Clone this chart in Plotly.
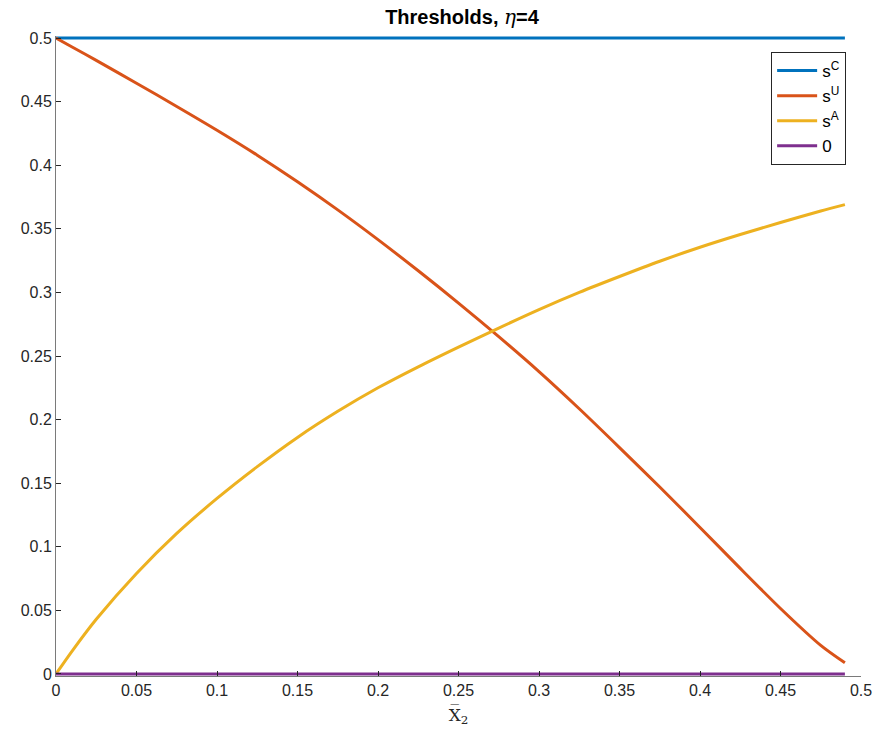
import plotly.graph_objects as go

# ---- data ----
x_grid = [0, 0.01, 0.025, 0.05, 0.075, 0.1, 0.125, 0.15, 0.175, 0.2, 0.225, 0.25,
          0.275, 0.3, 0.325, 0.35, 0.375, 0.4, 0.425, 0.45, 0.475, 0.49]
s_C = [0.5] * len(x_grid)
s_U = [0.5, 0.493, 0.4824, 0.4645, 0.4462, 0.4275, 0.4079, 0.387, 0.3649, 0.3415, 0.317, 0.2916,
       0.2652, 0.2377, 0.2085, 0.178, 0.147, 0.1152, 0.083, 0.0515, 0.0225, 0.0088]
s_A = [0.0, 0.018, 0.043, 0.079, 0.1105, 0.138, 0.163, 0.186, 0.2065, 0.225, 0.2415, 0.257,
       0.272, 0.2865, 0.300, 0.3125, 0.3245, 0.3355, 0.3455, 0.355, 0.364, 0.369]
zero = [0.0] * len(x_grid)

series_names = ["s<sup>C</sup>", "s<sup>U</sup>", "s<sup>A</sup>", "0"]
series_vals = [s_C, s_U, s_A, zero]
series_colors = ["#0072BD", "#D95319", "#EDB120", "#7E2F8E"]

x_ticks = [0, 0.05, 0.1, 0.15, 0.2, 0.25, 0.3, 0.35, 0.4, 0.45, 0.5]
x_tick_labels = ["0", "0.05", "0.1", "0.15", "0.2", "0.25", "0.3", "0.35", "0.4", "0.45", "0.5"]
y_ticks = [0, 0.05, 0.1, 0.15, 0.2, 0.25, 0.3, 0.35, 0.4, 0.45, 0.5]
y_tick_labels = ["0", "0.05", "0.1", "0.15", "0.2", "0.25", "0.3", "0.35", "0.4", "0.45", "0.5"]

FONT = "Liberation Sans, Arial, Helvetica, sans-serif"

fig = go.Figure()
for name, vals, col in zip(series_names, series_vals, series_colors):
    fig.add_trace(go.Scatter(
        x=x_grid, y=vals, mode="lines", name=name,
        line=dict(color=col, width=3, shape="spline", smoothing=0.8),
    ))

axis_common = dict(
    showgrid=False, zeroline=False, showline=True, linecolor="#7a7a7a", linewidth=1,
    ticks="inside", ticklen=5, tickwidth=1, tickcolor="#262626",
    tickfont=dict(family=FONT, size=16, color="#262626"), mirror=False,
)

fig.update_layout(
    width=884, height=734,
    margin=dict(l=56, r=16, t=36, b=58),
    paper_bgcolor="white", plot_bgcolor="white",
    title=dict(
        text="<b>Thresholds, </b><span style=\"font-family:'DejaVu Serif', serif;font-style:italic\">η</span><b>=4</b>",
        x=(56 + 868) / 2 / 884, xanchor="center", y=1 - 17 / 734, yanchor="middle",
        font=dict(family=FONT, size=20, color="black"),
    ),
    xaxis=dict(
        range=[0, 0.5], tickvals=x_ticks, ticktext=x_tick_labels,
        title=dict(text="X\u0305<sub>2</sub>", standoff=10,
                   font=dict(family="DejaVu Serif, serif", size=17, color="#262626")),
        **axis_common,
    ),
    yaxis=dict(
        range=[-0.0016, 0.5016], tickvals=y_ticks, ticktext=y_tick_labels,
        **axis_common,
    ),
    legend=dict(
        x=(853 - 56) / 812, xanchor="right", y=1 - (52 - 36) / 640, yanchor="top",
        bgcolor="white", bordercolor="#262626", borderwidth=1,
        font=dict(family=FONT, size=17, color="black"),
        tracegroupgap=0, itemwidth=40,
    ),
    showlegend=True,
)

fig.write_html("out.html")
